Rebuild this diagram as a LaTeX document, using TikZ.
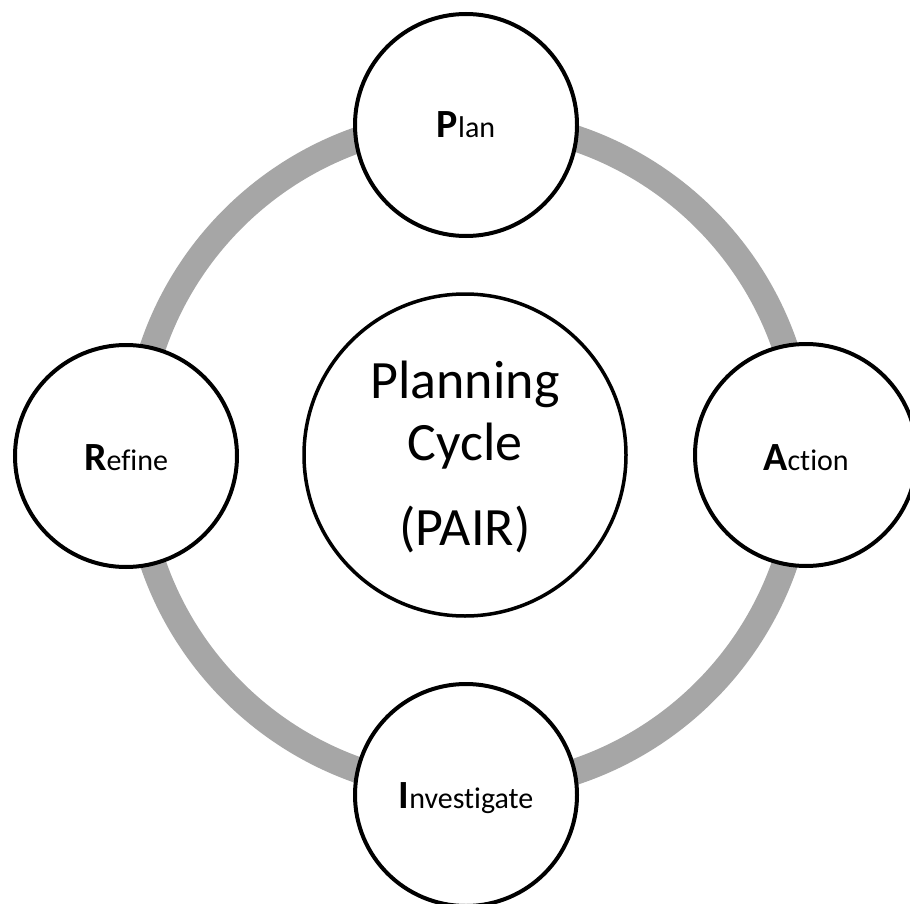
\documentclass[tikz,border=0pt]{standalone}
\usepackage{fontspec}
\setmainfont{Carlito}[Ligatures=NoCommon]
\definecolor{ringgray}{HTML}{A6A6A6}
\newcommand{\initl}[1]{{\fontsize{40}{48}\selectfont\bfseries #1}}
\begin{document}
\begin{tikzpicture}[x=1pt,y=-1pt,
  stagecircle/.style={circle,draw=black,fill=white,line width=4pt,minimum size=222pt,inner sep=0pt},
  hubcircle/.style={circle,draw=black,fill=white,line width=3.5pt,minimum size=322pt,inner sep=0pt},
  stagelabel/.style={anchor=base,inner sep=0pt,font=\fontsize{30}{36}\selectfont},
  hublabel/.style={anchor=base,inner sep=0pt,font=\fontsize{54}{64}\selectfont}]
\useasboundingbox (0,0) rectangle (910,904);
\fill[white] (0,0) rectangle (910,904);
% ring
\draw[ringgray,line width=26pt] (469,455) circle (334);
% hub
\node[hubcircle] (hub) at (465,455) {};
\node[hublabel] (hubA) at (465,398) {Planning};
\node[hublabel] (hubB) at (465,460) {Cycle};
\node[hublabel] (hubC) at (465,545) {(PAIR)};
% stages
\node[stagecircle] (plan) at (466,125) {};
\node[stagecircle] (action) at (806,455) {};
\node[stagecircle] (invest) at (466,795) {};
\node[stagecircle] (refine) at (126,456) {};
\node[stagelabel] (planT) at (466,138) {\initl{P}lan};
\node[stagelabel] (actionT) at (806,470) {\initl{A}ction};
\node[stagelabel] (investT) at (466,808) {\initl{I}nvestigate};
\node[stagelabel] (refineT) at (126,470) {\initl{R}efine};
\end{tikzpicture}
\end{document}
